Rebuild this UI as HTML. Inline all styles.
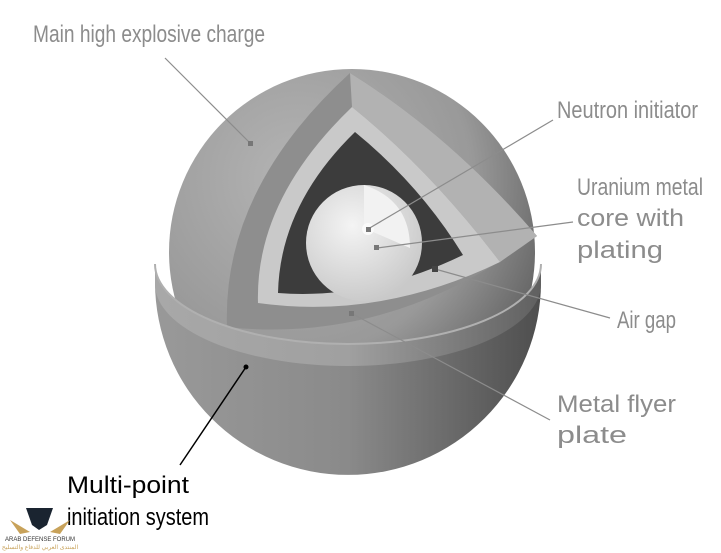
<!DOCTYPE html>
<html><head><meta charset="utf-8"><style>
html,body{margin:0;padding:0;background:#fff;}
svg{display:block}
text{font-family:"Liberation Sans",sans-serif;font-size:24px;fill:#8c8c8c}
</style></head><body>
<svg width="721" height="553" viewBox="0 0 721 553" xmlns="http://www.w3.org/2000/svg">
<defs>
<radialGradient id="sph" cx="0.35" cy="0.3" r="0.8">
<stop offset="0" stop-color="#b4b4b4"/><stop offset="0.6" stop-color="#999"/><stop offset="1" stop-color="#555"/></radialGradient>
<linearGradient id="bowl" x1="0" y1="0" x2="1" y2="0">
<stop offset="0" stop-color="#999"/><stop offset="0.5" stop-color="#8a8a8a"/><stop offset="1" stop-color="#4e4e4e"/></linearGradient>
<linearGradient id="band" x1="0" y1="0" x2="1" y2="0">
<stop offset="0" stop-color="#a8a8a8"/><stop offset="0.5" stop-color="#a0a0a0"/><stop offset="1" stop-color="#606060"/></linearGradient>
<radialGradient id="core" cx="0.4" cy="0.35" r="0.7">
<stop offset="0" stop-color="#f4f4f4"/><stop offset="1" stop-color="#c8c8c8"/></radialGradient>
</defs>
<circle cx="352" cy="252" r="183" fill="url(#sph)"/>
<path d="M350 73 Q450 135 537 236 Q390 345 227 327 Q222 190 350 73 Z" fill="#8e8e8e"/>
<path d="M350 73 Q450 135 537 236 L500 262 Q430 170 352 107 Z" fill="#b2b2b2"/>
<path d="M352 107 Q430 170 500 262 Q380 320 258 303 Q255 200 352 107 Z" fill="#c9c9c9"/>
<path d="M355 132 Q420 185 463 255 Q370 300 278 293 Q280 205 355 132 Z" fill="#3c3c3c"/>
<circle cx="364" cy="243" r="58" fill="url(#core)"/>
<path d="M364 185 L364 228 L410 248 Q410 200 364 185 Z" fill="#f2f2f2"/>
<circle cx="368" cy="229" r="6" fill="#fafafa"/>
<path d="M155 264 A193 80 0 0 0 541 264 L541 282 A193 193 0 0 1 155 282 Z" fill="url(#bowl)"/>
<path d="M155 264 A193 80 0 0 0 541 264 L541 284 A193 82 0 0 1 155 284 Z" fill="url(#band)"/>
<path d="M155 264 A193 80 0 0 0 541 264" fill="none" stroke="#b0b0b0" stroke-width="2"/>
<g stroke="#8c8c8c" stroke-width="1.2" fill="#777">
<line x1="165" y1="58" x2="250" y2="143"/><rect x="248" y="141" width="5" height="5" stroke="none"/>
<line x1="553" y1="120" x2="368" y2="229"/><rect x="366" y="227" width="5" height="5" stroke="none"/>
<line x1="573" y1="222" x2="377" y2="248"/><rect x="374" y="245" width="5" height="5" stroke="none"/>
<line x1="610" y1="318" x2="435" y2="269"/><rect x="432" y="266" width="6" height="6" stroke="none" fill="#444"/>
<line x1="550" y1="420" x2="351" y2="313"/><rect x="349" y="311" width="5" height="5" stroke="none"/>
</g>
<line x1="180" y1="465" x2="246" y2="367" stroke="#000" stroke-width="1.5"/>
<circle cx="246" cy="367" r="2.5" fill="#000"/>
<text x="33" y="42" textLength="232" lengthAdjust="spacingAndGlyphs">Main high explosive charge</text>
<text x="557" y="118" textLength="141" lengthAdjust="spacingAndGlyphs">Neutron initiator</text>
<text x="577" y="195" textLength="126" lengthAdjust="spacingAndGlyphs">Uranium metal</text>
<text x="577" y="226" textLength="107" lengthAdjust="spacingAndGlyphs">core with</text>
<text x="577" y="258" textLength="86" lengthAdjust="spacingAndGlyphs">plating</text>
<text x="617" y="328" textLength="59" lengthAdjust="spacingAndGlyphs">Air gap</text>
<text x="557" y="412" textLength="119" lengthAdjust="spacingAndGlyphs">Metal flyer</text>
<text x="557" y="443" textLength="70" lengthAdjust="spacingAndGlyphs">plate</text>
<text x="67" y="493" textLength="122" lengthAdjust="spacingAndGlyphs" style="fill:#000">Multi-point</text>
<text x="67" y="525" textLength="142" lengthAdjust="spacingAndGlyphs" style="fill:#000">initiation system</text>
<path d="M26 508 L53 508 L47 525 L39 530 L32 525 Z" fill="#1a2430"/>
<path d="M10 520 L30 532 L20 534 Z M70 520 L50 532 L60 534 Z" fill="#c8a25a"/>
<text x="40" y="541" text-anchor="middle" style="font-size:6px;fill:#333">ARAB DEFENSE FORUM</text>
<text x="40" y="549" text-anchor="middle" style="font-size:6px;fill:#c8a25a">المنتدى العربي للدفاع والتسليح</text>
</svg>
</body></html>
